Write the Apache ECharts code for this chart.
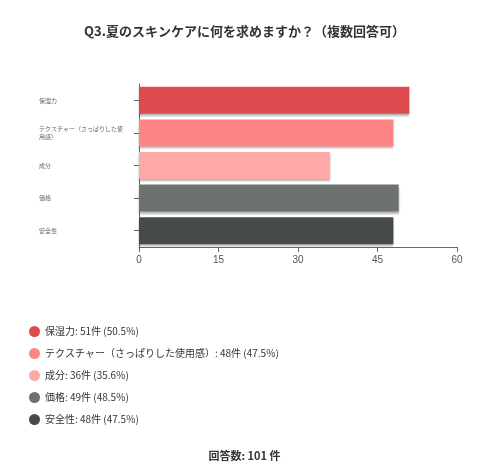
<!DOCTYPE html><html><head><meta charset="utf-8"><script src="https://cdn.jsdelivr.net/npm/echarts@6/dist/echarts.min.js"></script></head><body style="margin:0"><div id="c" style="width:489px;height:462px"></div><script>
const categories=['保湿力','テクスチャー（さっぱりした使用感）','成分','価格','安全性'];
const values=[51,48,36,49,48];
const percents=['50.5%','47.5%','35.6%','48.5%','47.5%'];
const colors=['#DD4B4E','#FF8585','#FFA8A8','#6E726F','#474B48'];
const xTicks=[0,15,30,45,60];
const series=categories.map((c,i)=>({name:c,type:'bar',stack:'s',barWidth:27,
 data:categories.map((_,j)=>j===i?values[i]:null),itemStyle:{color:colors[i],shadowColor:'rgba(0,0,0,0.3)',shadowOffsetY:2,shadowBlur:2}}));
const ch=echarts.init(document.getElementById('c'));
ch.setOption({animation:false,
title:[{text:'Q3.夏のスキンケアに何を求めますか？（複数回答可）',left:'center',top:20,textStyle:{fontSize:13,fontWeight:'bold',color:'#333',fontFamily:'Noto Sans CJK JP'}},
{text:'回答数: 101 件',left:'center',top:445,textStyle:{fontSize:11,fontWeight:'bold',color:'#333',fontFamily:'Noto Sans CJK JP'}}],
grid:{left:139,right:32,top:84,height:163,containLabel:false},
xAxis:{type:'value',min:xTicks[0],max:xTicks[xTicks.length-1],interval:15,splitLine:{show:false},axisLine:{show:true,lineStyle:{color:'#666'}},axisTick:{show:true},axisLabel:{fontSize:10,color:'#555'}},
yAxis:{type:'category',inverse:true,data:categories,axisLine:{lineStyle:{color:'#666'}},axisTick:{show:true,alignWithLabel:true},
 axisLabel:{fontSize:6,color:'#666',width:90,overflow:'break',lineHeight:8,align:'left',margin:100,fontFamily:'Noto Sans CJK JP'}},
legend:{orient:'vertical',left:24,top:321,itemGap:11,icon:'circle',itemWidth:11,itemHeight:11,
 textStyle:{fontSize:10,color:'#333',fontFamily:'Noto Sans CJK JP'},
 formatter:n=>{const i=categories.indexOf(n);return n+': '+values[i]+'件 ('+percents[i]+')';}},
series});
</script></body></html>
